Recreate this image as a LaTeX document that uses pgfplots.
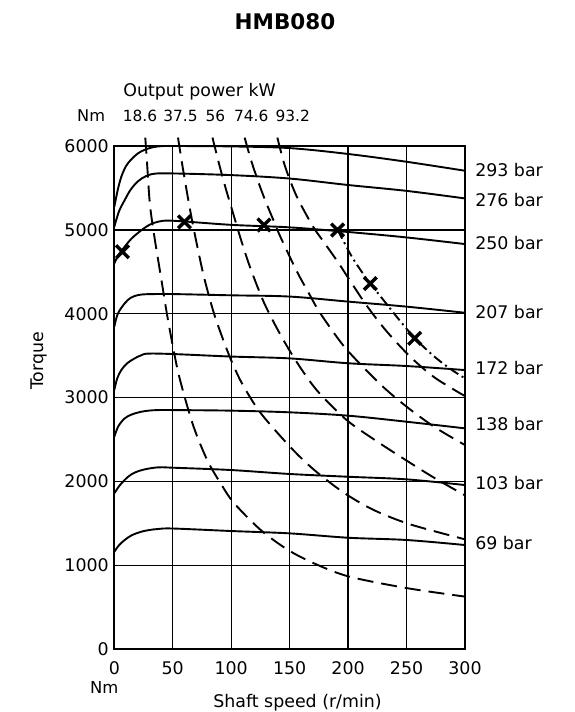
\documentclass[border=0pt]{standalone}
\usepackage{pgfplots}
\pgfplotsset{compat=1.18}
\usepackage{fontspec}
\setmainfont{DejaVu Sans}
\newcommand\fs{\fontsize{17.4bp}{20bp}\selectfont}
\newcommand\fss{\fontsize{15.4bp}{18bp}\selectfont}
\begin{document}
\begin{tikzpicture}[font=\fs]
\useasboundingbox (-114.3bp,-62.7bp) rectangle (460.7bp,649.3bp);
\begin{axis}[
  at={(0,0)}, anchor=south west,
  scale only axis, width=350.7bp, height=503.3bp,
  xmin=0, xmax=300, ymin=0, ymax=6000,
  xtick={0,50,...,300}, ytick={0,1000,...,6000},
  grid=major, grid style={black, line width=1.3bp},
  axis line style={line width=2bp},
  major tick length=0pt,
  tick label style={font=\fs},
  xticklabel style={yshift=-9bp},
  yticklabel style={xshift=-2bp},
  /pgf/number format/assume math mode=true,
  /pgf/number format/set thousands separator={},
  clip=false,
  every axis plot/.append style={line width=1.9bp, black},
  sol/.style={smooth, tension=0.55},
  dsh/.style={smooth, tension=0.5, dash pattern=on 16bp off 8bp},
]
% torque curves
\addplot[sol] coordinates {(0,5275) (3,5480) (6,5633) (10,5760) (14.5,5840) (20,5910) (26,5955) (33,5985) (40,5998) (50,6000) (100,5995) (150,5975) (200,5905) (250,5812) (300,5705)};
\addplot[sol] coordinates {(0,5037) (4,5220) (8.9,5355) (14,5480) (20.3,5580) (27,5640) (34.6,5670) (50,5673) (100,5653) (150,5612) (200,5535) (250,5465) (300,5375)};
\addplot[sol] coordinates {(0,4601) (4,4710) (8.9,4800) (15,4900) (23.1,4995) (30,5060) (37.4,5097) (50,5109) (100,5060) (150,5030) (200,4975) (250,4910) (300,4831)};
\addplot[sol] coordinates {(0,3845) (3,4000) (8.9,4124) (14,4190) (20.3,4223) (27,4233) (34.6,4235) (50,4235) (100,4220) (150,4205) (200,4145) (250,4085) (300,4012)};
\addplot[sol] coordinates {(0,3091) (2.5,3230) (6,3329) (11,3410) (17.4,3468) (23,3505) (28.8,3525) (50,3520) (100,3490) (150,3468) (200,3410) (250,3377) (300,3329)};
\addplot[sol] coordinates {(0,2534) (3.5,2660) (8.9,2753) (15,2800) (23.1,2832) (30,2846) (37.4,2852) (50,2852) (100,2845) (150,2825) (200,2785) (250,2713) (300,2634)};
\addplot[sol] coordinates {(0,1859) (5,1960) (11.8,2057) (18,2110) (26,2145) (37.4,2169) (50,2165) (100,2137) (150,2090) (200,2057) (250,2026) (300,1958)};
\addplot[sol] coordinates {(0,1163) (4,1240) (8.9,1303) (15,1360) (23.1,1402) (30,1422) (37.4,1434) (50,1440) (100,1410) (150,1382) (200,1330) (250,1303) (300,1243)};
% power curves
\addplot[dsh] coordinates {(26.5,6100) (28,5800) (30.5,5300) (34.5,4900) (40,4430) (45,4000) (50,3620) (55,3280) (63,2870) (70,2570) (80,2240) (90,2000) (102,1750) (125,1425) (148,1190) (170,1030) (200,870) (250,730) (300,628)};
\addplot[dsh] coordinates {(54.5,6100) (58,5790) (62,5460) (66,5150) (70,4870) (76,4480) (82,4160) (87,3930) (95,3620) (102,3380) (110,3150) (125,2820) (150,2420) (170,2150) (196,1870) (222,1660) (253,1490) (300,1311)};
\addplot[dsh] coordinates {(84,6100) (89,5820) (95,5510) (102,5180) (108,4900) (116,4560) (127.5,4150) (139,3830) (150,3560) (162,3300) (175,3060) (199,2730) (224.5,2480) (250,2250) (273,2050) (300,1835)};
\addplot[dsh] coordinates {(111.5,6100) (117,5830) (124,5540) (130,5320) (136,5120) (142,4920) (156,4510) (167,4230) (176,4010) (196,3620) (216,3320) (233,3090) (253,2860) (275,2640) (300,2435)};
\addplot[dsh] coordinates {(139.5,6100) (146,5760) (156,5400) (170,5040) (179,4860) (191.6,4610) (200,4430) (216,4095) (233,3790) (253,3490) (273,3250) (293,3075) (300,3020)};
% max power line
\addplot[smooth, tension=0.5, dash pattern=on 10bp off 4bp on 2bp off 4bp] coordinates {(191,5000) (201.6,4720) (207.3,4590) (218.7,4362) (227.3,4215) (241.6,3964) (257.2,3707) (272.9,3500) (287.2,3345) (300,3230)};
% markers
\addplot[only marks, mark=x, mark size=9bp, mark options={solid, line width=3.4bp}] coordinates {(7,4740) (60,5095) (128,5058) (191,4998) (219,4360) (257,3707)};
% texts
\node[anchor=base, font=\bfseries\fontsize{21.5bp}{24bp}\selectfont] at (axis cs:146.0,7383) {HMB080};
\node[anchor=base] at (axis cs:73.0,6588) {Output power kW};
\node[anchor=base, font=\fontsize{16.2bp}{18bp}\selectfont] at (axis cs:-19.8,6290) {Nm};
\node[anchor=base, font=\fss] at (axis cs:22.0,6290) {18.6};
\node[anchor=base, font=\fss] at (axis cs:56.6,6290) {37.5};
\node[anchor=base, font=\fss] at (axis cs:86.4,6290) {56};
\node[anchor=base, font=\fss] at (axis cs:117.1,6290) {74.6};
\node[anchor=base, font=\fss] at (axis cs:152.6,6290) {93.2};
\node[anchor=base, font=\fontsize{16.4bp}{18bp}\selectfont] at (axis cs:-8.6,-525) {Nm};
\node[anchor=base] at (axis cs:156.7,-696) {Shaft speed (r/min)};
\node[rotate=90] at (axis cs:-64.3,3439) {Torque};
\node[anchor=west, inner sep=0pt] at (axis cs:308.6,5714) {293 bar};
\node[anchor=west, inner sep=0pt] at (axis cs:308.6,5356) {276 bar};
\node[anchor=west, inner sep=0pt] at (axis cs:308.6,4838) {250 bar};
\node[anchor=west, inner sep=0pt] at (axis cs:308.6,4015) {207 bar};
\node[anchor=west, inner sep=0pt] at (axis cs:308.6,3359) {172 bar};
\node[anchor=west, inner sep=0pt] at (axis cs:308.6,2686) {138 bar};
\node[anchor=west, inner sep=0pt] at (axis cs:308.6,1988) {103 bar};
\node[anchor=west, inner sep=0pt] at (axis cs:308.6,1273) {69 bar};
\end{axis}
\end{tikzpicture}
\end{document}
